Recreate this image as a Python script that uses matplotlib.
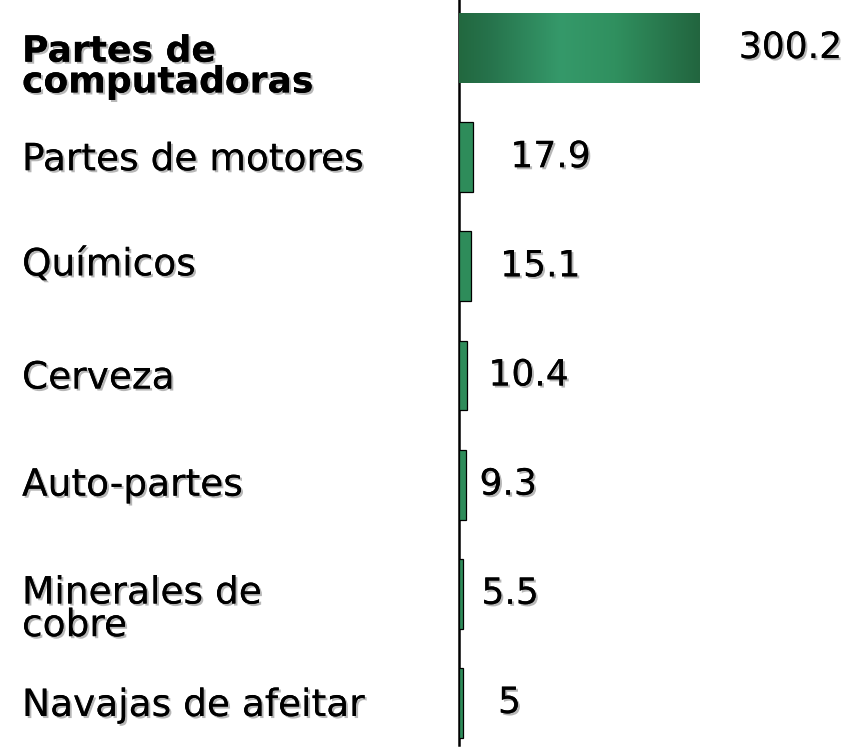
import numpy as np
import matplotlib
matplotlib.use("Agg")
import matplotlib.pyplot as plt
import matplotlib.patheffects as pe
from matplotlib.colors import LinearSegmentedColormap

categories = ["Partes de\ncomputadoras", "Partes de motores", "Químicos", "Cerveza",
              "Auto-partes", "Minerales de\ncobre", "Navajas de afeitar"]
values = [300.2, 17.9, 15.1, 10.4, 9.3, 5.5, 5]
value_labels = ["300.2", "17.9", "15.1", "10.4", "9.3", "5.5", "5"]

# layout tweaks (pixels)
label_dx = [39, 37, 29, 21, 13, 18, 35]
cat_dy = [-19, -3, 1, -3, -1, -16, -3]

shadow = [pe.withSimplePatchShadow(offset=(1.5, -1.5), shadow_rgbFace="#999999", alpha=0.7),
          pe.Normal()]

fig = plt.figure(figsize=(8.6, 7.47), dpi=100)
ax = fig.add_axes([459 / 860, 2 / 747, 401 / 860, 745 / 747])

pos = np.arange(len(values))
bars = ax.barh(pos, values, height=0.64, color="#2e8c5a", edgecolor="black", linewidth=0.9, zorder=2)

# gradient on the big bar
big = bars[0]
big.set_edgecolor("none")
big.set_facecolor("none")
cmap = LinearSegmentedColormap.from_list(
    "g", [(0, "#22683f"), (0.12, "#26724b"), (0.42, "#35996a"), (0.65, "#30905f"), (1, "#22653f")])
grad = np.linspace(0, 1, 256).reshape(1, -1)
im = ax.imshow(grad, cmap=cmap, aspect="auto", zorder=2,
               extent=[0, values[0], pos[0] + 0.32, pos[0] - 0.32])
im.set_clip_path(big)

ax.set_xlim(0, 500)
ax.set_ylim(6.385, -0.44)
ax.set_xticks([])
ax.set_yticks([])
for s in ["top", "right", "bottom"]:
    ax.spines[s].set_visible(False)
ax.spines["left"].set_linewidth(1.8)
ax.spines["left"].set_color("black")
ax.spines["left"].set_zorder(1)

for i, (v, t) in enumerate(zip(values, value_labels)):
    ax.annotate(t, xy=(v, i), xytext=(label_dx[i], 0), textcoords="offset pixels",
                ha="left", va="center", fontsize=26, color="black",
                path_effects=shadow, annotation_clip=False)

for i, c in enumerate(categories):
    ax.annotate(c, xy=(0, i), xycoords=("figure pixels", "data"),
                xytext=(22, cat_dy[i]), textcoords="offset pixels",
                ha="left", va="center", fontsize=26 if i == 0 else 27, linespacing=0.88,
                fontweight="bold" if i == 0 else "normal",
                path_effects=shadow, annotation_clip=False)

fig.savefig("out.png", dpi=100)
